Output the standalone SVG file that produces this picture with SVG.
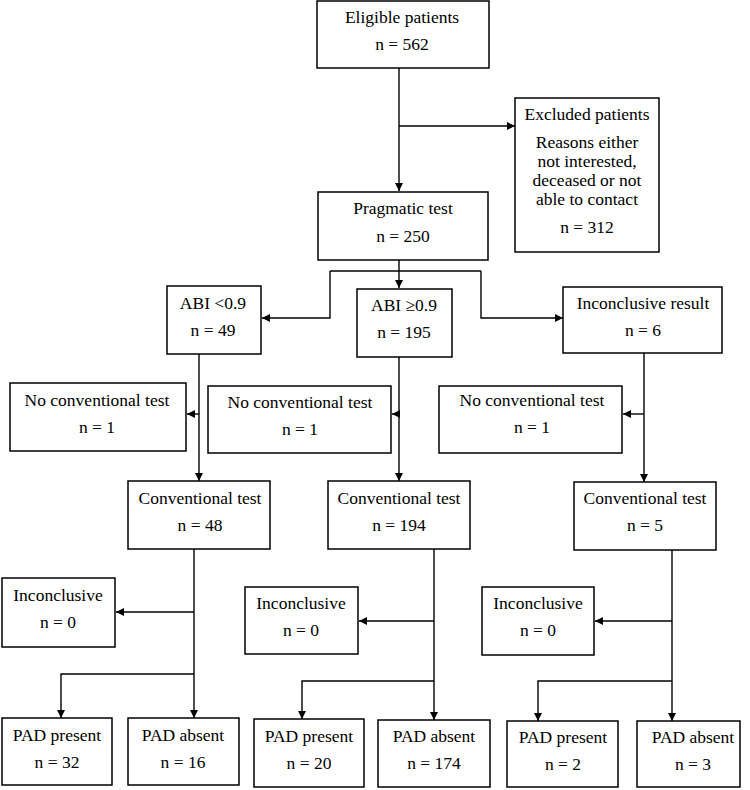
<svg xmlns="http://www.w3.org/2000/svg" width="750" height="790" viewBox="0 0 750 790">
<defs>
<style>
.b{fill:#fff;stroke:#000;stroke-width:1.5}
.t{font-family:"Liberation Serif","Times New Roman",serif;font-size:17.5px;fill:#000;text-anchor:middle}
.c{fill:none;stroke:#000;stroke-width:1.4}
</style>
<marker id="a" viewBox="0 0 10 10" refX="10" refY="5" markerWidth="9" markerHeight="8" orient="auto" markerUnits="userSpaceOnUse"><path d="M0,0 L10,5 L0,10 z" fill="#000"/></marker>
</defs>
<rect width="750" height="790" fill="#fff"/>
<g id="connectors">
<path class="c" d="M399,68 V191" marker-end="url(#a)"/>
<path class="c" d="M399,126 H515" marker-end="url(#a)"/>
<path class="c" d="M399,260 V288" marker-end="url(#a)"/>
<path class="c" d="M330,271 H481"/>
<path class="c" d="M330,271 V318 H262" marker-end="url(#a)"/>
<path class="c" d="M481,271 V318 H563" marker-end="url(#a)"/>
<path class="c" d="M199,354 V481" marker-end="url(#a)"/>
<path class="c" d="M199,414 H187" marker-end="url(#a)"/>
<path class="c" d="M399,357 V481" marker-end="url(#a)"/>
<path class="c" d="M399,414 H392" marker-end="url(#a)"/>
<path class="c" d="M644,353 V482" marker-end="url(#a)"/>
<path class="c" d="M644,414 H623" marker-end="url(#a)"/>
<path class="c" d="M194,549 V718" marker-end="url(#a)"/>
<path class="c" d="M194,612 H116" marker-end="url(#a)"/>
<path class="c" d="M194,674 H61 V718" marker-end="url(#a)"/>
<path class="c" d="M434,549 V720" marker-end="url(#a)"/>
<path class="c" d="M434,621 H359" marker-end="url(#a)"/>
<path class="c" d="M434,681 H302 V719" marker-end="url(#a)"/>
<path class="c" d="M672,550 V721" marker-end="url(#a)"/>
<path class="c" d="M672,621 H595" marker-end="url(#a)"/>
<path class="c" d="M672,681 H538 V721" marker-end="url(#a)"/>
</g>
<g id="eligible"><rect class="b" x="317" y="1" width="172" height="67"/><text class="t" x="402" y="23">Eligible patients</text><text class="t" x="402" y="50">n = 562</text></g>
<g id="excluded"><rect class="b" x="515" y="98" width="144" height="154"/><text class="t" x="587" y="120">Excluded patients</text><text class="t" x="587" y="148">Reasons either</text><text class="t" x="587" y="167">not interested,</text><text class="t" x="587" y="186">deceased or not</text><text class="t" x="587" y="205">able to contact</text><text class="t" x="587" y="233">n = 312</text></g>
<g id="pragmatic"><rect class="b" x="318" y="192" width="170" height="68"/><text class="t" x="403" y="214">Pragmatic test</text><text class="t" x="403" y="242">n = 250</text></g>
<g id="abi-low"><rect class="b" x="167" y="286" width="94" height="68"/><text class="t" x="213" y="309">ABI &lt;0.9</text><text class="t" x="213" y="336">n = 49</text></g>
<g id="abi-high"><rect class="b" x="357" y="289" width="95" height="68"/><text class="t" x="404" y="311">ABI ≥0.9</text><text class="t" x="404" y="338">n = 195</text></g>
<g id="inconclusive-result"><rect class="b" x="563" y="287" width="159" height="66"/><text class="t" x="643" y="309">Inconclusive result</text><text class="t" x="643" y="336">n = 6</text></g>
<g id="noconv-left"><rect class="b" x="10" y="383" width="176" height="68"/><text class="t" x="97" y="406">No conventional test</text><text class="t" x="97" y="433">n = 1</text></g>
<g id="noconv-mid"><rect class="b" x="208" y="386" width="183" height="67"/><text class="t" x="300" y="408">No conventional test</text><text class="t" x="300" y="435">n = 1</text></g>
<g id="noconv-right"><rect class="b" x="439" y="386" width="183" height="67"/><text class="t" x="532" y="406">No conventional test</text><text class="t" x="532" y="433">n = 1</text></g>
<g id="conv-left"><rect class="b" x="128" y="481" width="142" height="68"/><text class="t" x="200" y="504">Conventional test</text><text class="t" x="200" y="531">n = 48</text></g>
<g id="conv-mid"><rect class="b" x="328" y="481" width="142" height="68"/><text class="t" x="399" y="504">Conventional test</text><text class="t" x="399" y="531">n = 194</text></g>
<g id="conv-right"><rect class="b" x="574" y="482" width="142" height="68"/><text class="t" x="645" y="504">Conventional test</text><text class="t" x="645" y="531">n = 5</text></g>
<g id="inc-left"><rect class="b" x="2" y="578" width="113" height="69"/><text class="t" x="58" y="601">Inconclusive</text><text class="t" x="58" y="628">n = 0</text></g>
<g id="inc-mid"><rect class="b" x="245" y="587" width="113" height="67"/><text class="t" x="301" y="609">Inconclusive</text><text class="t" x="301" y="636">n = 0</text></g>
<g id="inc-right"><rect class="b" x="482" y="587" width="112" height="68"/><text class="t" x="538" y="609">Inconclusive</text><text class="t" x="538" y="636">n = 0</text></g>
<g id="pad1"><rect class="b" x="2" y="718" width="110" height="67"/><text class="t" x="57" y="741">PAD present</text><text class="t" x="57" y="768">n = 32</text></g>
<g id="pad2"><rect class="b" x="128" y="718" width="111" height="67"/><text class="t" x="183" y="741">PAD absent</text><text class="t" x="183" y="768">n = 16</text></g>
<g id="pad3"><rect class="b" x="254" y="719" width="110" height="68"/><text class="t" x="309" y="742">PAD present</text><text class="t" x="309" y="769">n = 20</text></g>
<g id="pad4"><rect class="b" x="378" y="720" width="112" height="67"/><text class="t" x="434" y="742">PAD absent</text><text class="t" x="434" y="769">n = 174</text></g>
<g id="pad5"><rect class="b" x="507" y="721" width="111" height="66"/><text class="t" x="563" y="743">PAD present</text><text class="t" x="563" y="770">n = 2</text></g>
<g id="pad6"><rect class="b" x="637" y="721" width="103" height="66"/><text class="t" x="693" y="743">PAD absent</text><text class="t" x="693" y="770">n = 3</text></g>
</svg>
